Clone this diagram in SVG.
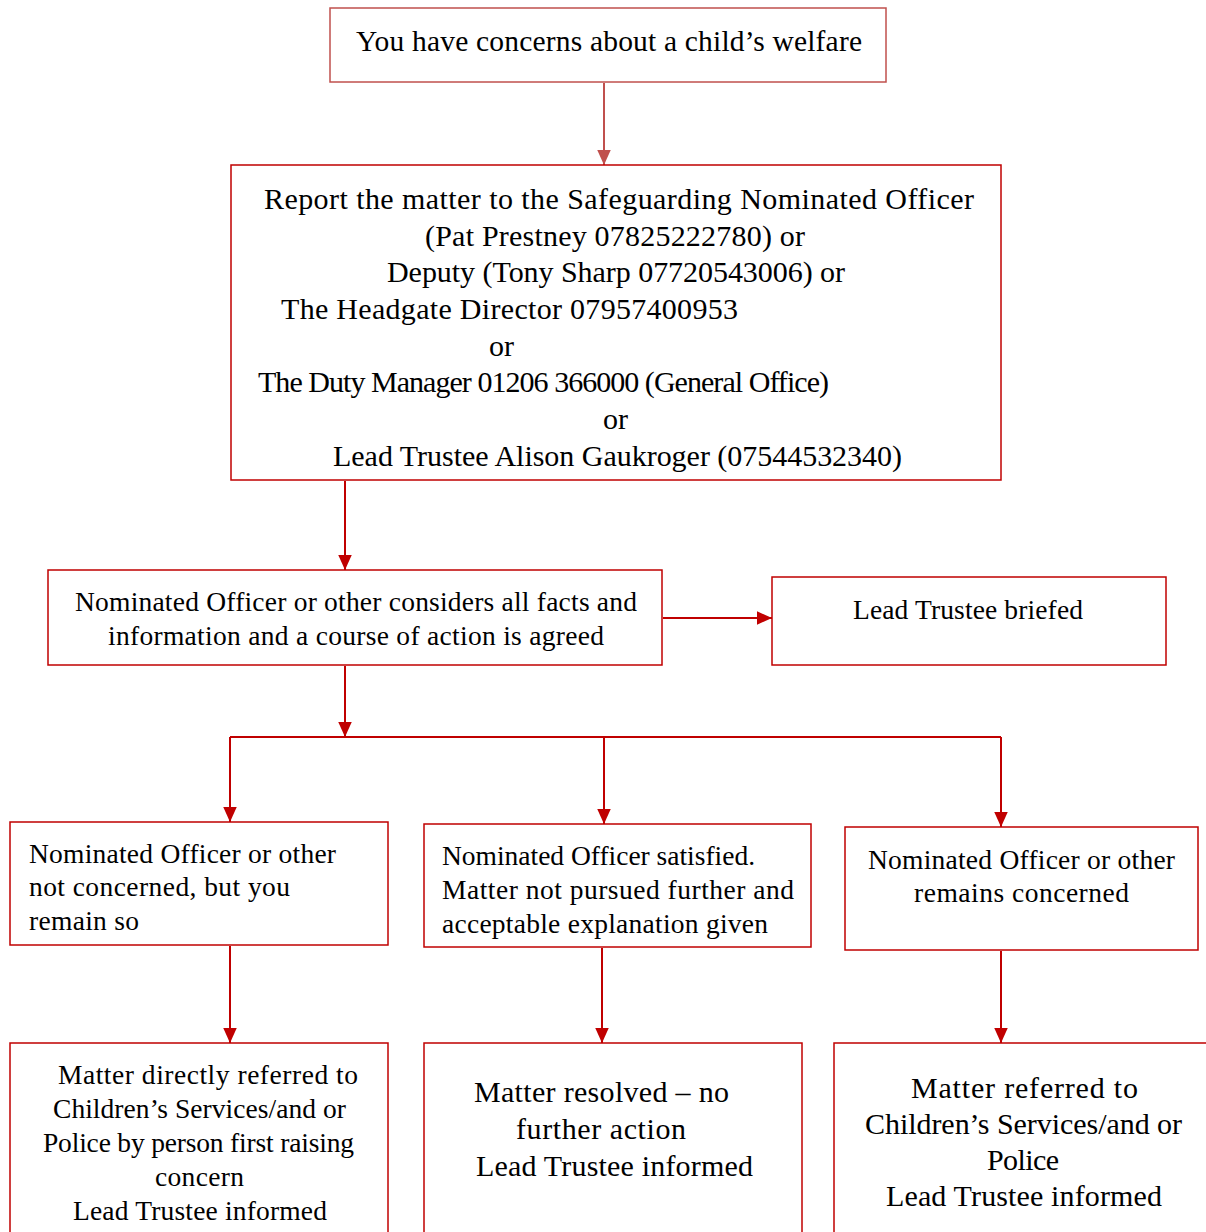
<svg xmlns="http://www.w3.org/2000/svg" width="1206" height="1232" viewBox="0 0 1206 1232">
<defs>
<style>
.box{fill:#fff;stroke:#C00000;stroke-width:1.5}
.box1{fill:#fff;stroke:#C0504D;stroke-width:1.5}
.t{font-family:"Liberation Serif","Times New Roman",serif;fill:#000}
.s26{font-size:27.5px}
.s28{font-size:29.5px}
.s29{font-size:30px}
.ln{fill:none;stroke:#C00000;stroke-width:2}
.ln1{fill:none;stroke:#C0504D;stroke-width:2}
</style>
<marker id="ah" viewBox="0 0 10 10" refX="10" refY="5" markerWidth="15" markerHeight="15" markerUnits="userSpaceOnUse" orient="auto">
<path d="M0,0.5 L10,5 L0,9.5 Z" fill="#C00000"/>
</marker>
<marker id="ah1" viewBox="0 0 10 10" refX="10" refY="5" markerWidth="15" markerHeight="15" markerUnits="userSpaceOnUse" orient="auto">
<path d="M0,0.5 L10,5 L0,9.5 Z" fill="#C0504D"/>
</marker>
</defs>
<rect width="1206" height="1232" fill="#fff"/>

<g id="connectors">
<path class="ln1" d="M604,83 V165" marker-end="url(#ah1)"/>
<path class="ln" d="M345,481 V570" marker-end="url(#ah)"/>
<path class="ln" d="M663,618 H772" marker-end="url(#ah)"/>
<path class="ln" d="M345,666 V737" marker-end="url(#ah)"/>
<path class="ln" d="M230,737 H1001"/>
<path class="ln" d="M230,737 V822" marker-end="url(#ah)"/>
<path class="ln" d="M604,737 V824" marker-end="url(#ah)"/>
<path class="ln" d="M1001,737 V827" marker-end="url(#ah)"/>
<path class="ln" d="M230,946 V1043" marker-end="url(#ah)"/>
<path class="ln" d="M602,948 V1043" marker-end="url(#ah)"/>
<path class="ln" d="M1001,951 V1043" marker-end="url(#ah)"/>
</g>

<g id="n1">
<rect class="box1" x="330" y="8" width="556" height="74"/>
<text class="t s28" x="356" y="51" textLength="506">You have concerns about a child’s welfare</text>
</g>

<g id="n2">
<rect class="box" x="231" y="165" width="770" height="315"/>
<text class="t s29" x="264" y="209" textLength="710">Report the matter to the Safeguarding Nominated Officer</text>
<text class="t s29" x="425" y="246" textLength="380">(Pat Prestney 07825222780) or</text>
<text class="t s29" x="387" y="282" textLength="458">Deputy (Tony Sharp 07720543006) or</text>
<text class="t s29" x="281" y="319" textLength="457">The Headgate Director 07957400953</text>
<text class="t s29" x="489" y="356" textLength="25">or</text>
<text class="t s29" x="258" y="392" textLength="571">The Duty Manager 01206 366000 (General Office)</text>
<text class="t s29" x="603" y="429" textLength="25">or</text>
<text class="t s29" x="333" y="466" textLength="569">Lead Trustee Alison Gaukroger (07544532340)</text>
</g>

<g id="n3">
<rect class="box" x="48" y="570" width="614" height="95"/>
<text class="t s26" x="75" y="611" textLength="562">Nominated Officer or other considers all facts and</text>
<text class="t s26" x="108" y="645" textLength="496">information and a course of action is agreed</text>
</g>

<g id="n4">
<rect class="box" x="772" y="577" width="394" height="88"/>
<text class="t s26" x="853" y="619" textLength="230">Lead Trustee briefed</text>
</g>

<g id="n5">
<rect class="box" x="10" y="822" width="378" height="123"/>
<text class="t s26" x="29" y="863" textLength="307">Nominated Officer or other</text>
<text class="t s26" x="29" y="896" textLength="261">not concerned, but you</text>
<text class="t s26" x="29" y="930" textLength="110">remain so</text>
</g>

<g id="n6">
<rect class="box" x="424" y="824" width="387" height="123"/>
<text class="t s26" x="442" y="865" textLength="313">Nominated Officer satisfied.</text>
<text class="t s26" x="442" y="899" textLength="352">Matter not pursued further and</text>
<text class="t s26" x="442" y="933" textLength="326">acceptable explanation given</text>
</g>

<g id="n7">
<rect class="box" x="845" y="827" width="353" height="123"/>
<text class="t s26" x="868" y="869" textLength="307">Nominated Officer or other</text>
<text class="t s26" x="914" y="902" textLength="215">remains concerned</text>
</g>

<g id="n8">
<rect class="box" x="10" y="1043" width="378" height="200"/>
<text class="t s26" x="58" y="1084" textLength="300">Matter directly referred to</text>
<text class="t s26" x="53" y="1118" textLength="293">Children’s Services/and or</text>
<text class="t s26" x="43" y="1152" textLength="311">Police by person first raising</text>
<text class="t s26" x="155" y="1186" textLength="89">concern</text>
<text class="t s26" x="73" y="1220" textLength="254">Lead Trustee informed</text>
</g>

<g id="n9">
<rect class="box" x="424" y="1043" width="378" height="200"/>
<text class="t s29" x="474" y="1102" textLength="255">Matter resolved – no</text>
<text class="t s29" x="516" y="1139" textLength="170">further action</text>
<text class="t s29" x="476" y="1176" textLength="277">Lead Trustee informed</text>
</g>

<g id="n10">
<rect class="box" x="834" y="1043" width="380" height="200"/>
<text class="t s29" x="911" y="1098" textLength="227">Matter referred to</text>
<text class="t s29" x="865" y="1134" textLength="317">Children’s Services/and or</text>
<text class="t s29" x="987" y="1170" textLength="72">Police</text>
<text class="t s29" x="886" y="1206" textLength="276">Lead Trustee informed</text>
</g>
</svg>
